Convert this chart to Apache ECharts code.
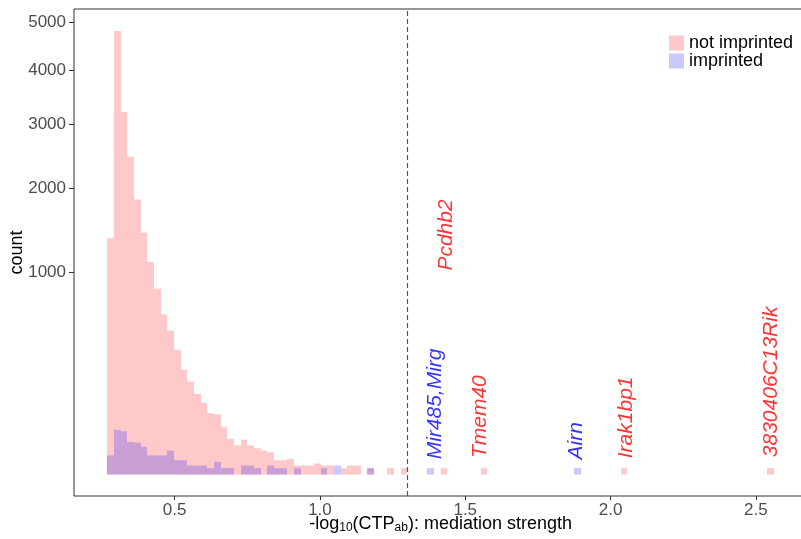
<!DOCTYPE html>
<html>
<head>
<meta charset="utf-8">
<script src="https://cdn.jsdelivr.net/npm/echarts@6/dist/echarts.min.js"></script>
<style>html,body{margin:0;padding:0;background:#fff}#c{width:801px;height:539px}</style>
</head>
<body>
<div id="c"></div>
<script>
// ---- data ----
const binStart = 0.2684;      // left edge of the first histogram bin
const binWidth = 0.02294;     // bin width (100 bins)
const notImprinted = [
  1365, 4810, 3214, 2470, 1850, 1430, 1105, 845, 628, 508,
  381, 269, 211, 159, 126, 92, 89, 55, 31, 21,
  30, 21, 17, 14, 12, 5, 5, 6, 2, 2,
  2, 3, 2, 2, 0, 1, 2, 2, 0, 1,
  0, 0, 1, 0, 1, 0, 0, 0, 0, 0,
  1, 0, 0, 0, 0, 0, 1, 0, 0, 0,
  0, 0, 0, 0, 0, 0, 0, 0, 0, 0,
  0, 0, 0, 0, 0, 0, 0, 1, 0, 0,
  0, 0, 0, 0, 0, 0, 0, 0, 0, 0,
  0, 0, 0, 0, 0, 0, 0, 0, 0, 1
];
const imprinted = [
  9, 49, 46, 26, 25, 19, 9, 9, 9, 14,
  5, 5, 2, 2, 2, 1, 4, 1, 1, 0,
  2, 2, 1, 0, 2, 1, 1, 0, 1, 0,
  0, 0, 1, 0, 2, 0, 0, 0, 0, 1,
  0, 0, 0, 0, 0, 0, 0, 0, 1, 0,
  0, 0, 0, 0, 0, 0, 0, 0, 0, 0,
  0, 0, 0, 0, 0, 0, 0, 0, 0, 0,
  1, 0, 0, 0, 0, 0, 0, 0, 0, 0,
  0, 0, 0, 0, 0, 0, 0, 0, 0, 0,
  0, 0, 0, 0, 0, 0, 0, 0, 0, 0
];
const yTicks = [1000, 2000, 3000, 4000, 5000];
const xTicks = [0.5, 1.0, 1.5, 2.0, 2.5];
const threshold = 1.30103;   // -log10(0.05)
const geneNames  = ['Pcdhb2', 'Mir485,Mirg', 'Tmem40', 'Airn', 'Irak1bp1', '3830406C13Rik'];
const geneGroup  = ['not imprinted', 'imprinted', 'not imprinted', 'imprinted', 'not imprinted', 'not imprinted'];
const geneX      = [1.433, 1.398, 1.553, 1.883, 2.052, 2.554];
const geneCount  = [1403, 122, 82, 28, 80, 210];   // label centre height (count scale)

// ---- build ----
const FONT = 'Liberation Sans, Arial, Helvetica, sans-serif';
const groupColor = {'not imprinted': '#ff0000', 'imprinted': '#0000ff'};
function binData(counts) {
  return counts.map((c, i) => [binStart + i * binWidth, binStart + (i + 1) * binWidth, Math.sqrt(c)]);
}
function renderBar(params, api) {
  const v = api.value(2);
  if (!(v > 0)) return null;
  const p0 = api.coord([api.value(0), v]);
  const p1 = api.coord([api.value(1), 0]);
  const xa = Math.round(p0[0]), xb = Math.round(p1[0]);
  return {type: 'rect', shape: {x: xa, y: p0[1], width: xb - xa, height: p1[1] - p0[1]},
          style: Object.assign(api.style(), {stroke: null, lineWidth: 0})};
}
const chart = echarts.init(document.getElementById('c'), null, {renderer: 'canvas'});
chart.setOption({
  animation: false,
  textStyle: {fontFamily: FONT},
  grid: {left: 74, right: -6.3, top: 9, bottom: 43, outerBoundsMode: 'none', containLabel: false,
         show: true, borderColor: '#333', borderWidth: 1, backgroundColor: 'transparent'},
  legend: {
    data: ['not imprinted', 'imprinted'], orient: 'vertical', left: 669, top: 34,
    itemWidth: 15, itemHeight: 15, itemGap: 0, icon: 'rect', padding: 0,
    textStyle: {fontSize: 18, color: '#000', fontFamily: FONT, lineHeight: 15}
  },
  xAxis: {
    type: 'value', min: 0.1537, max: 2.677,
    axisLine: {show: false, onZero: false}, splitLine: {show: false},
    axisTick: {show: true, length: 4, lineStyle: {color: '#333'}, customValues: xTicks},
    axisLabel: {fontSize: 17, color: '#4d4d4d', margin: 6, customValues: xTicks, formatter: v => v.toFixed(1)},
    name: '-log{sub|10}(CTP{sub|ab}): mediation strength', nameLocation: 'middle', nameGap: 19,
    nameMoveOverlap: false,
    nameTextStyle: {fontSize: 18, color: '#000', fontFamily: FONT,
      rich: {sub: {fontSize: 12, color: '#000', fontFamily: FONT, padding: [7, 0, 0, 0]}}}
  },
  yAxis: {
    type: 'value', min: -3.35, max: 72.79,
    axisLine: {show: false, onZero: false}, splitLine: {show: false},
    axisTick: {show: true, length: 5, lineStyle: {color: '#333'}, customValues: yTicks.map(Math.sqrt)},
    axisLabel: {fontSize: 17, color: '#4d4d4d', margin: 8, customValues: yTicks.map(Math.sqrt), formatter: v => String(Math.round(v * v))},
    name: 'count', nameLocation: 'middle', nameRotate: 90, nameGap: 48, nameMoveOverlap: false,
    nameTextStyle: {fontSize: 18, color: '#000', fontFamily: FONT}
  },
  series: [
    {type: 'custom', name: 'not imprinted', renderItem: renderBar, data: binData(notImprinted),
     encode: {x: [0, 1], y: 2}, itemStyle: {color: 'rgba(255,0,0,0.21)'}, silent: true},
    {type: 'custom', name: 'imprinted', renderItem: renderBar, data: binData(imprinted),
     encode: {x: [0, 1], y: 2}, itemStyle: {color: 'rgba(0,0,255,0.21)'}, silent: true},
    {type: 'scatter', name: 'genes', symbolSize: 0, silent: true,
     data: geneNames.map((g, i) => ({
       name: g, value: [geneX[i], Math.sqrt(geneCount[i])],
       label: {color: groupColor[geneGroup[i]]}
     })),
     label: {show: true, position: 'inside', rotate: 90, formatter: p => p.name,
             fontSize: 21, fontStyle: 'italic', fontFamily: FONT, align: 'center', verticalAlign: 'middle'},
     markLine: {silent: true, symbol: 'none', label: {show: false},
       lineStyle: {type: [5, 3], color: '#555', width: 1.2},
       data: [{xAxis: threshold}]}
    }
  ]
});
</script>
</body>
</html>
